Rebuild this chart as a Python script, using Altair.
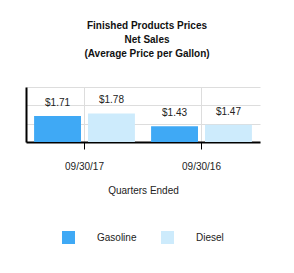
import altair as alt
import pandas as pd

quarters = ["09/30/17", "09/30/16"]
products = ["Gasoline", "Diesel"]
gasoline = [1.71, 1.43]
diesel = [1.78, 1.47]
colors = ["#3FA9F5", "#CDEBFC"]

rows = []
for i, q in enumerate(quarters):
    rows.append({"quarter": q, "product": "Gasoline", "price": gasoline[i]})
    rows.append({"quarter": q, "product": "Diesel", "price": diesel[i]})
df = pd.DataFrame(rows)
df["label"] = df["price"].map(lambda v: f"${v:.2f}")

FONT = "Liberation Sans"

x = alt.X("quarter:N", sort=quarters, title="Quarters Ended",
          scale=alt.Scale(paddingInner=0, paddingOuter=0),
          axis=alt.Axis(grid=True, gridColor="#dddddd", domainColor="#000000",
                        domainWidth=2, tickColor="#000000", tickSize=7,
                        labelAngle=0, labelPadding=12, labelFontSize=10,
                        labelFont=FONT, labelColor="#222222",
                        titleFont=FONT, titleFontSize=10, titleFontWeight="normal",
                        titleColor="#222222", titlePadding=14))
xoff = alt.XOffset("product:N", sort=products,
                   scale=alt.Scale(paddingInner=0.13, paddingOuter=0.15))
y = alt.Y("price:Q", title=None,
          scale=alt.Scale(domain=[1.0, 2.5], nice=False, zero=False),
          axis=alt.Axis(values=[1.0, 1.5, 2.0, 2.5], labels=False, ticks=False,
                        grid=True, gridColor="#dddddd", domainColor="#000000",
                        domainWidth=2))

base = alt.Chart(df)
bars = base.mark_bar(clip=True).encode(
    x=x, xOffset=xoff, y=y,
    color=alt.Color("product:N", sort=products,
                    scale=alt.Scale(domain=products, range=colors),
                    legend=alt.Legend(title=None, orient="none", direction="horizontal",
                                      legendX=36, legendY=144,
                                      symbolType="square", symbolSize=169,
                                      symbolStrokeWidth=0, labelOffset=22,
                                      columnPadding=24, labelFont=FONT,
                                      labelFontSize=10, labelColor="#222222")),
)
labels = base.mark_text(dy=-13, font=FONT, fontSize=10, color="#222222").encode(
    x=x, xOffset=xoff, y=y, text="label:N")

chart = alt.layer(bars, labels).properties(
    width=234, height=55,
    title=alt.TitleParams(["Finished Products Prices", "Net Sales", "(Average Price per Gallon)"],
                          font=FONT, fontSize=10, fontWeight="bold", color="#111111",
                          anchor="middle", lineHeight=14, offset=28, dx=4),
    autosize=alt.AutoSizeParams(type="none"),
    padding={"left": 26, "top": 87, "right": 34, "bottom": 131},
).configure_view(stroke=None)

chart.save("out.html", embed_options={"renderer": "svg", "actions": False})
